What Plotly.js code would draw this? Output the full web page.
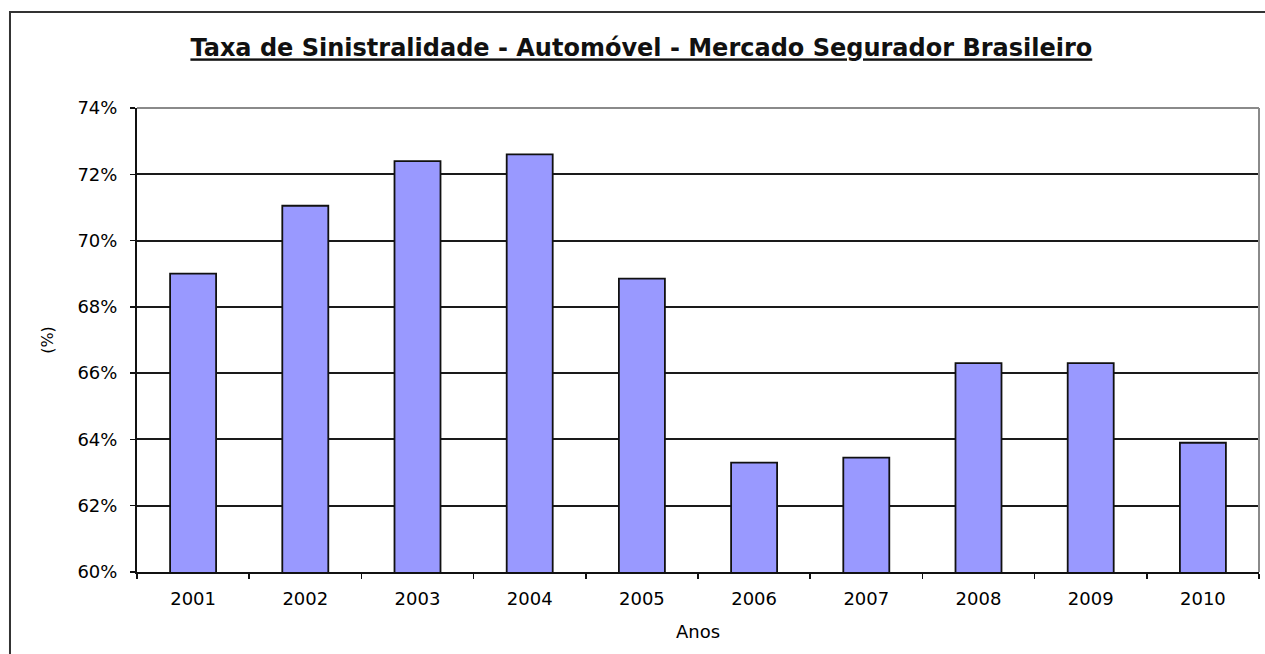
<!DOCTYPE html>
<html>
<head>
<meta charset="utf-8">
<script src="https://cdn.plot.ly/plotly-3.0.1.min.js"></script>
<style>html,body{margin:0;padding:0;background:#fff;}#chart{width:1265px;height:654px;}</style>
</head>
<body>
<div id="chart"></div>
<script>
const categories = ["2001","2002","2003","2004","2005","2006","2007","2008","2009","2010"];
const values = [69.0, 71.05, 72.4, 72.6, 68.85, 63.3, 63.45, 66.3, 66.3, 63.9];
const yTickVals = [60, 62, 64, 66, 68, 70, 72, 74];
const yTickText = ["60%", "62%", "64%", "66%", "68%", "70%", "72%", "74%"];
const titleText = "Taxa de Sinistralidade - Automóvel - Mercado Segurador Brasileiro";
const xTitle = "Anos";
const yTitle = "(%)";

const FONT = "DejaVu Sans, Verdana, sans-serif";

const trace = {
  type: "bar",
  x: categories,
  y: values,
  marker: { color: "#9999ff", line: { color: "#111", width: 1.8 } },
  hoverinfo: "x+y"
};

const layout = {
  width: 1265,
  height: 654,
  margin: { l: 137, r: 6, t: 108, b: 82 },
  paper_bgcolor: "#ffffff",
  plot_bgcolor: "#ffffff",
  showlegend: false,
  bargap: 0.59,
  title: {
    text: titleText,
    font: { family: FONT, size: 24, color: "#111", weight: "bold", lineposition: "under" },
    x: 0.507, xanchor: "center", xref: "container",
    y: 1 - 48 / 654, yanchor: "middle", yref: "container"
  },
  xaxis: {
    type: "category",
    showline: true, linecolor: "#111", linewidth: 2,
    ticks: "outside", ticklen: 5, tickwidth: 1.5, tickcolor: "#111",
    tickson: "boundaries",
    showgrid: false, zeroline: false,
    tickfont: { family: FONT, size: 18, color: "#000" },
    ticklabelstandoff: 9,
    title: { text: xTitle, font: { family: FONT, size: 18, color: "#000" }, standoff: 18 }
  },
  yaxis: {
    range: [60, 74],
    tickvals: yTickVals, ticktext: yTickText,
    showline: true, linecolor: "#111", linewidth: 2,
    ticks: "outside", ticklen: 5, tickwidth: 1.5, tickcolor: "#111",
    showgrid: true, gridcolor: "#1a1a1a", gridwidth: 2,
    zeroline: false,
    tickfont: { family: FONT, size: 18, color: "#000" },
    ticklabelstandoff: 9,
    title: { text: yTitle, font: { family: FONT, size: 16, color: "#000" }, standoff: 20 }
  },
  shapes: [
    { type: "line", xref: "paper", yref: "paper", x0: 0, x1: 1, y0: 1, y1: 1,
      line: { color: "#8a8a8a", width: 2 }, layer: "above" },
    { type: "line", xref: "paper", yref: "paper", x0: 1, x1: 1, y0: 0, y1: 1,
      line: { color: "#8a8a8a", width: 2 }, layer: "above" },
    { type: "path", xref: "paper", yref: "paper",
      path: "M -0.1132 -0.3 L -0.1132 1.2069 L 1.2 1.2069",
      line: { color: "#333", width: 2 }, layer: "above" }
  ]
};

Plotly.newPlot("chart", [trace], layout, { displayModeBar: false, staticPlot: true });
</script>
</body>
</html>
